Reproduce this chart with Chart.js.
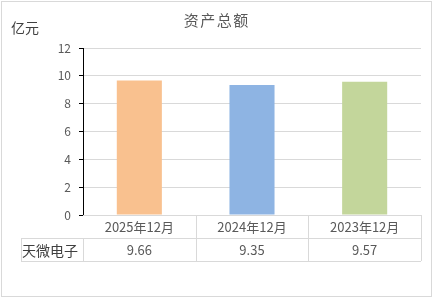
<!DOCTYPE html>
<html><head><meta charset="utf-8">
<script src="https://cdn.jsdelivr.net/npm/chart.js@4/dist/chart.umd.min.js"></script>
<style>html,body{margin:0;padding:0;background:#fff;}#wrap{width:434px;height:298px;position:relative;}</style>
</head><body><div id="wrap"><canvas id="c" width="434" height="298"></canvas></div>
<script>
const categories = ['2025年12月', '2024年12月', '2023年12月'];
const seriesName = '天微电子';
const values = [9.66, 9.35, 9.57];
const barColors = ['#F9C18F', '#8EB4E3', '#C3D69B'];
const yTicks = [0, 2, 4, 6, 8, 10, 12];
const titleText = '资产总额';
const unitText = '亿元';

const FONT = '"Noto Sans CJK SC", "Microsoft YaHei", sans-serif';
const GRAY = '#595959';
const LINE = '#D9D9D9';

const extras = {
  id: 'extras',
  beforeDraw(chart) {
    const ctx = chart.ctx;
    ctx.save();
    ctx.fillStyle = '#fff';
    ctx.fillRect(0, 0, chart.width, chart.height);
    ctx.strokeStyle = LINE;
    ctx.lineWidth = 1;
    ctx.strokeRect(1.5, 1.5, 430, 295);
    ctx.restore();
  },
  afterDraw(chart) {
    const ctx = chart.ctx;
    const xs = chart.scales.x;
    const area = chart.chartArea;
    ctx.save();
    // title
    ctx.fillStyle = GRAY;
    ctx.font = '15px ' + FONT;
    ctx.textBaseline = 'middle';
    ctx.textAlign = 'center';
    const chars = Array.from(titleText);
    const step = 16.5;
    const cx = 216;
    chars.forEach((ch, i) => {
      ctx.fillText(ch, cx + (i - (chars.length - 1) / 2) * step, 20);
    });
    // unit
    ctx.font = '14px ' + FONT;
    ctx.textAlign = 'left';
    ctx.fillStyle = '#404040';
    ctx.fillText(unitText, 11, 28);
    // table
    const L = area.left, R = area.right, T = area.bottom;
    const rowH = 23;
    const leftX = 21;
    ctx.strokeStyle = LINE;
    ctx.lineWidth = 1;
    ctx.beginPath();
    ctx.moveTo(L, T + 0.5); ctx.lineTo(R, T + 0.5);
    ctx.moveTo(leftX, T + rowH + 0.5); ctx.lineTo(R, T + rowH + 0.5);
    ctx.moveTo(leftX, T + 2 * rowH + 0.5); ctx.lineTo(R, T + 2 * rowH + 0.5);
    ctx.moveTo(leftX + 0.5, T + rowH); ctx.lineTo(leftX + 0.5, T + 2 * rowH);
    const n = categories.length;
    const bounds = [];
    for (let i = 0; i <= n; i++) {
      const p = i === 0 ? L : (i === n ? R : (xs.getPixelForTick(i - 1) + xs.getPixelForTick(i)) / 2);
      bounds.push(p);
      const top = i === 0 ? T + rowH : T;
      ctx.moveTo(Math.round(p) + 0.5, top); ctx.lineTo(Math.round(p) + 0.5, T + 2 * rowH);
    }
    ctx.stroke();
    ctx.fillStyle = GRAY;
    ctx.textAlign = 'center';
    ctx.font = '13px ' + FONT;
    categories.forEach((c, i) => {
      const x = xs.getPixelForTick(i);
      ctx.fillText(c, x, T + rowH / 2 + 1);
      ctx.fillText(values[i].toFixed(2), x, T + rowH * 1.5 + 1);
    });
    ctx.textAlign = 'left';
    ctx.font = '14px ' + FONT;
    ctx.fillStyle = '#404040';
    ctx.fillText(seriesName, 22, T + rowH * 1.5 + 1);
    ctx.restore();
  }
};

new Chart(document.getElementById('c'), {
  type: 'bar',
  data: {
    labels: categories,
    datasets: [{
      label: seriesName,
      data: values,
      backgroundColor: barColors,
      borderWidth: 0,
      categoryPercentage: 1,
      barPercentage: 0.4
    }]
  },
  options: {
    responsive: false,
    animation: false,
    devicePixelRatio: 1,
    layout: { padding: { left: 0, right: 13, top: 48, bottom: 83 } },
    plugins: { legend: { display: false }, title: { display: false }, tooltip: { enabled: false } },
    scales: {
      x: { display: false },
      y: {
        min: 0, max: 12,
        afterBuildTicks(scale) { scale.ticks = yTicks.map(v => ({ value: v })); },
        afterFit(scale) { scale.width = 83; },
        ticks: { color: GRAY, font: { size: 12, family: FONT }, padding: 8 },
        grid: { color: LINE, tickColor: '#000', tickLength: 4, lineWidth: 1 },
        border: { color: '#000', width: 1 }
      }
    }
  },
  plugins: [extras]
});
</script>
</body></html>
